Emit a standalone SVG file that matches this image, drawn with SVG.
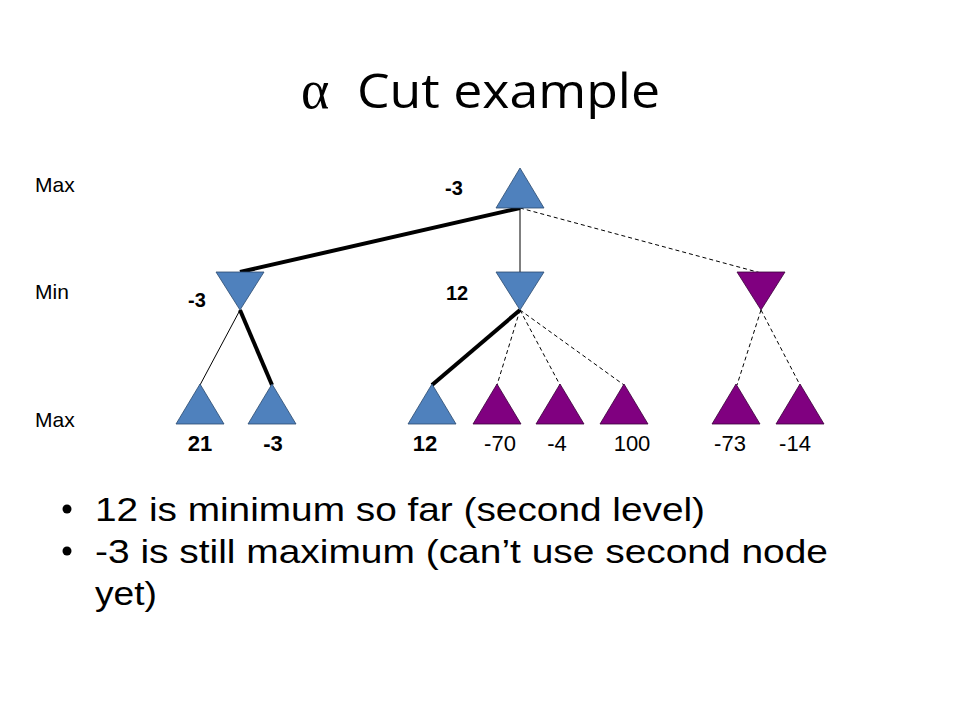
<svg xmlns="http://www.w3.org/2000/svg" width="960" height="720" viewBox="0 0 960 720">
<style>
.blue{fill:#4F81BD;stroke:#2B4A6F;stroke-width:0.8}
.purple{fill:#800080;stroke:#3A003A;stroke-width:0.8}
.thick{stroke:#000;stroke-width:4;fill:none}
.thin{stroke:#000;stroke-width:1;fill:none}
.dash{stroke:#000;stroke-width:1;fill:none;stroke-dasharray:4 3}
.lvl{font-family:"Liberation Sans",Arial,sans-serif;font-size:21px;fill:#000}
.num{font-family:"Liberation Sans",Arial,sans-serif;font-size:20px;font-weight:bold;fill:#000;text-anchor:middle}
.leafb{font-family:"Liberation Sans",Arial,sans-serif;font-size:22px;font-weight:bold;fill:#000;text-anchor:middle}
.leaf{font-family:"Liberation Sans",Arial,sans-serif;font-size:22px;fill:#000;text-anchor:middle}
.bul{font-family:"Liberation Sans",Arial,sans-serif;font-size:34px;fill:#000}
</style>
<rect width="960" height="720" fill="#fff"/>
<g id="title">
<text x="301" y="108" style="font-family:'Liberation Serif',serif;font-size:54px;fill:#000">α</text>
<text x="357" y="108" textLength="303" lengthAdjust="spacingAndGlyphs" style="font-family:'Open Sans','Liberation Sans',sans-serif;font-size:48px;fill:#000">Cut example</text>
</g>
<g id="levels">
<text class="lvl" x="35" y="192">Max</text>
<text class="lvl" x="35" y="299">Min</text>
<text class="lvl" x="35" y="427">Max</text>
</g>
<g id="connectors">
<line class="thick" x1="520" y1="208" x2="240" y2="272"/>
<line class="thin" x1="520" y1="208" x2="520" y2="273"/>
<line class="dash" x1="520" y1="208" x2="761" y2="273"/>
<line class="thin" x1="240" y1="310" x2="200" y2="385"/>
<line class="thick" x1="240" y1="310" x2="272" y2="385"/>
<line class="thick" x1="520" y1="310" x2="432" y2="385"/>
<line class="dash" x1="520" y1="310" x2="497" y2="385"/>
<line class="dash" x1="520" y1="310" x2="560" y2="385"/>
<line class="dash" x1="520" y1="310" x2="624" y2="385"/>
<line class="dash" x1="761" y1="310" x2="737" y2="385"/>
<line class="dash" x1="761" y1="310" x2="800" y2="385"/>
</g>
<g id="root"><polygon class="blue" points="520,168 544,208 496,208"/><text class="num" x="454" y="195">-3</text></g>
<g id="min1"><polygon class="blue" points="216,272 264,272 240,310"/><text class="num" x="197" y="307">-3</text></g>
<g id="min2"><polygon class="blue" points="496,272 544,272 520,310"/><text class="num" x="457" y="300">12</text></g>
<g id="min3"><polygon class="purple" points="737,272 785,272 761,310"/></g>
<g id="leaf1"><polygon class="blue" points="200,384 224,424 176,424"/><text class="leafb" x="200" y="451">21</text></g>
<g id="leaf2"><polygon class="blue" points="272,384 296,424 248,424"/><text class="leafb" x="273" y="451">-3</text></g>
<g id="leaf3"><polygon class="blue" points="432,384 456,424 408,424"/><text class="leafb" x="425" y="451">12</text></g>
<g id="leaf4"><polygon class="purple" points="497,384 521,424 473,424"/><text class="leaf" x="500" y="451">-70</text></g>
<g id="leaf5"><polygon class="purple" points="560,384 584,424 536,424"/><text class="leaf" x="557" y="451">-4</text></g>
<g id="leaf6"><polygon class="purple" points="624,384 648,424 600,424"/><text class="leaf" x="632" y="451">100</text></g>
<g id="leaf7"><polygon class="purple" points="736,384 760,424 712,424"/><text class="leaf" x="730" y="451">-73</text></g>
<g id="leaf8"><polygon class="purple" points="800,384 824,424 776,424"/><text class="leaf" x="795" y="451">-14</text></g>
<g id="bullets">
<circle cx="67" cy="509" r="4.5" fill="#000"/>
<circle cx="67" cy="551" r="4.5" fill="#000"/>
<text class="bul" x="95" y="521" textLength="610" lengthAdjust="spacingAndGlyphs">12 is minimum so far (second level)</text>
<text class="bul" x="95" y="563" textLength="733" lengthAdjust="spacingAndGlyphs">-3 is still maximum (can’t use second node</text>
<text class="bul" x="95" y="605" textLength="62" lengthAdjust="spacingAndGlyphs">yet)</text>
</g>
</svg>
